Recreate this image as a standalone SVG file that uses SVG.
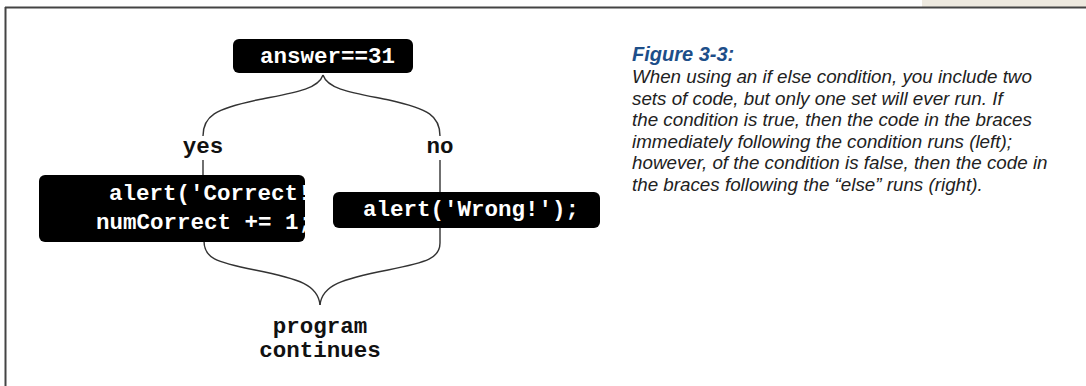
<svg xmlns="http://www.w3.org/2000/svg" width="1086" height="386" viewBox="0 0 1086 386">
<style>
.box{fill:#000}
.code{font-family:"Liberation Mono","Courier New",monospace;font-weight:bold;font-size:22.5px;fill:#fff}
.lbl{font-family:"Liberation Mono","Courier New",monospace;font-weight:bold;font-size:22.5px;fill:#111}
.conn{fill:none;stroke:#333;stroke-width:1.4}
.cap{font-family:"Liberation Sans",Arial,sans-serif;font-style:italic;font-size:18.8px;fill:#222}
.figt{font-family:"Liberation Sans",Arial,sans-serif;font-style:italic;font-weight:bold;font-size:20px;fill:#1d4e89}
</style>
<defs>
<clipPath id="clipL"><rect x="39" y="175" width="266" height="67" rx="6"/></clipPath>
</defs>
<rect x="0" y="0" width="1086" height="386" fill="#fff"/>
<rect x="922" y="0" width="164" height="7" fill="#ede9df"/>
<line x1="5" y1="7.5" x2="1086" y2="7.5" stroke="#444" stroke-width="2"/>
<line x1="5.5" y1="7" x2="5.5" y2="386" stroke="#444" stroke-width="2"/>

<g id="connectors">
<path class="conn" d="M323,75 C318,90 292,93 257,100 C215,109 203,116 203,136"/>
<path class="conn" d="M323,75 C328,90 354,93 389,100 C429,109 440,116 440,136"/>
<line class="conn" x1="203" y1="160" x2="203" y2="176"/>
<line class="conn" x1="440" y1="160" x2="440" y2="193"/>
<path class="conn" d="M204,241 C204,258 215,262 255,270 C300,279 318,285 320,305"/>
<path class="conn" d="M440,227 L440,243 C440,258 428,262 388,270 C342,279 322,285 320,305"/>
</g>

<g id="node-condition">
<rect class="box" x="233" y="39" width="180" height="34" rx="6"/>
<text class="code" x="260" y="63">answer==31</text>
</g>

<g id="label-yes"><text class="lbl" x="203" y="153" text-anchor="middle">yes</text></g>
<g id="label-no"><text class="lbl" x="440" y="153" text-anchor="middle">no</text></g>

<g id="node-yes">
<rect class="box" x="39" y="175" width="266" height="67" rx="6"/>
<g clip-path="url(#clipL)">
<text class="code" x="109" y="200">alert('Correct!');</text>
<text class="code" x="96" y="229">numCorrect += 1;</text>
</g>
</g>

<g id="node-no">
<rect class="box" x="333" y="192" width="267" height="36" rx="6"/>
<text class="code" x="363" y="216">alert('Wrong!');</text>
</g>

<g id="node-continue">
<text class="lbl" x="320" y="333" text-anchor="middle">program</text>
<text class="lbl" x="320" y="357" text-anchor="middle">continues</text>
</g>

<g id="caption">
<text class="figt" x="632" y="61">Figure 3-3:</text>
<text class="cap" x="632" y="83">When using an if else condition, you include two</text>
<text class="cap" x="632" y="104.5">sets of code, but only one set will ever run. If</text>
<text class="cap" x="632" y="126">the condition is true, then the code in the braces</text>
<text class="cap" x="632" y="147.5">immediately following the condition runs (left);</text>
<text class="cap" x="632" y="169">however, of the condition is false, then the code in</text>
<text class="cap" x="632" y="190.5">the braces following the “else” runs (right).</text>
</g>
</svg>
